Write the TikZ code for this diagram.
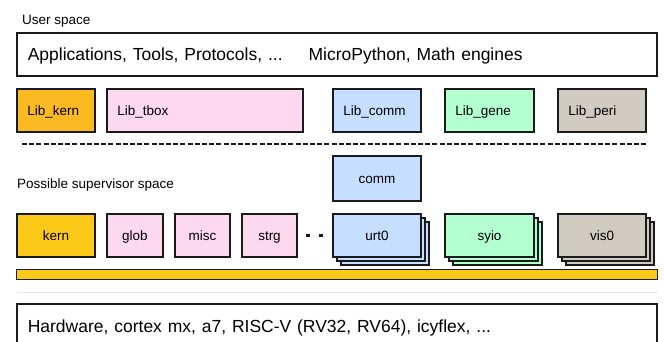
\documentclass[tikz,border=0pt]{standalone}
\usepackage{fontspec}
\setmainfont{Liberation Sans}
\usetikzlibrary{shadows}
\definecolor{cOrange}{HTML}{FBBA22}
\definecolor{cYellow}{HTML}{FDC918}
\definecolor{cPink}{HTML}{FDD9F0}
\definecolor{cBlue}{HTML}{C6DEFF}
\definecolor{cGreen}{HTML}{B3FFCF}
\definecolor{cGray}{HTML}{D0CCC1}
\definecolor{cLine}{HTML}{1A1A1A}
\tikzset{
  bx/.style={draw=cLine, line width=1.6pt, inner sep=0pt, minimum height=43.4pt},
  lib/.style={bx, font=\fontsize{13.5}{16}\selectfont, text height=9.7pt, text depth=0pt},
  liblabel/.style={lib, align=left, inner xsep=10.5pt, text width=#1-21pt, minimum width=#1},
  small/.style={lib, minimum width=#1},
  stack/.style={double copy shadow={shadow xshift=4pt, shadow yshift=-4pt}},
  big/.style={bx, font=\fontsize{17.5}{20}\selectfont, text height=12.8pt, text depth=0pt, align=left, inner xsep=11pt, text width=640.4pt-22pt, minimum width=640.4pt},
  lbl/.style={font=\fontsize{13.5}{16}\selectfont, inner sep=0pt, anchor=base west}
}
\begin{document}
\begin{tikzpicture}[x=1pt,y=-1pt]
\path[use as bounding box, clip] (0,0) rectangle (664,342);
\fill[white] (0,0) rectangle (664,342);

\node[lbl] (userspace) at (22,25) {User space};
\node[big] (apps) at (337,54.5) {Applications, Tools, Protocols, ...\hspace{26pt}MicroPython, Math engines};

\node[liblabel=78.4pt, fill=cOrange] (libkern) at (56,110.5) {Lib\_kern};
\node[liblabel=196.4pt, fill=cPink] (libtbox) at (205,110.5) {Lib\_tbox};
\node[liblabel=88.4pt, fill=cBlue] (libcomm) at (377,110.5) {Lib\_comm};
\node[liblabel=89.4pt, fill=cGreen] (libgene) at (489.5,110.5) {Lib\_gene};
\node[liblabel=88.4pt, fill=cGray] (libperi) at (602,110.5) {Lib\_peri};

\coordinate (dashA) at (22,144.5);
\coordinate (dashB) at (648,144.5);
\draw[cLine, line width=2pt, dash pattern=on 5pt off 2.2pt] (dashA) -- (dashB);

\node[lbl] (supspace) at (17,188) {Possible supervisor space};

\node[small=88.4pt, minimum height=45.4pt, fill=cBlue] (comm) at (377,178.5) {comm};

\node[small=78.4pt, fill=cYellow] (kern) at (56,235.5) {kern};
\node[small=56.4pt, fill=cPink] (glob) at (135,235.5) {glob};
\node[small=55.4pt, fill=cPink] (misc) at (202.5,235.5) {misc};
\node[small=55.4pt, fill=cPink] (strg) at (269.5,235.5) {strg};
\coordinate (dotA) at (306,235.5);
\coordinate (dotB) at (324,235.5);
\draw[cLine, line width=2.2pt, dash pattern=on 4pt off 9pt] (dotA) -- (dotB);
\node[small=88.4pt, fill=cBlue, stack] (urt0) at (377,235.5) {urt0};
\node[small=89.4pt, fill=cGreen, stack] (syio) at (489.5,235.5) {syio};
\node[small=88.4pt, fill=cGray, stack] (vis0) at (602,235.5) {vis0};

\node[draw=cLine, line width=1.4pt, fill=cYellow, minimum width=640.6pt, minimum height=9.6pt, inner sep=0pt] (bar) at (337,274.5) {};

\coordinate (faintA) at (17,292);
\coordinate (faintB) at (658,292);
\draw[black!10, line width=1pt] (faintA) -- (faintB);

\node[big, minimum height=45.4pt] (hw) at (337,326.5) {Hardware, cortex mx, a7, RISC-V (RV32, RV64), icyflex, ...};
\end{tikzpicture}
\end{document}
